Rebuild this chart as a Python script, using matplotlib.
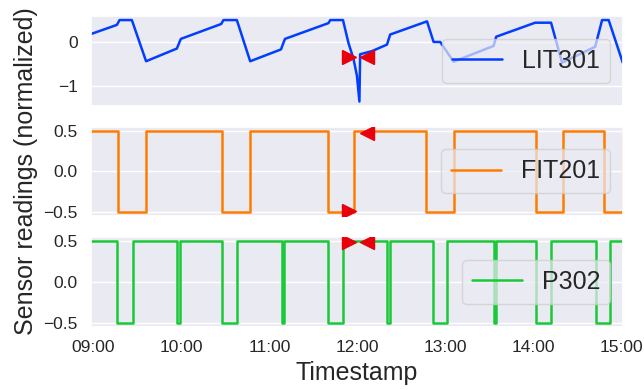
import matplotlib
matplotlib.use("Agg")
import matplotlib.pyplot as plt
import matplotlib.dates as mdates
import seaborn as sns
import pandas as pd

DAY = "2015-12-28 "

# LIT301 tank level (normalized)
lit301_time = ["08:58:12", "09:16:00", "09:17:48", "09:26:12", "09:35:54", "09:56:54",
               "09:59:36", "10:27:06", "10:28:42", "10:37:48", "10:46:54", "11:07:54",
               "11:10:36", "11:40:18", "11:41:30", "11:50:12", "11:53:54", "11:57:24",
               "11:59:42", "12:01:24", "12:01:54", "12:09:54", "12:20:12", "12:22:24",
               "12:47:30", "12:52:00", "12:56:30", "13:05:36", "13:32:54", "13:34:42",
               "14:01:18", "14:12:06", "14:19:36", "14:42:12", "14:46:54", "14:51:24",
               "15:01:00"]
lit301_value = [0.18, 0.39, 0.50, 0.50, -0.44, -0.15,
                0.07, 0.41, 0.50, 0.50, -0.44, -0.17,
                0.07, 0.43, 0.50, 0.50, -0.02, -0.39,
                -0.77, -1.36, -0.28, -0.21, -0.06, 0.17,
                0.47, 0.00, 0.00, -0.45, -0.09, 0.12,
                0.44, 0.44, -0.47, -0.11, 0.50, 0.50,
                -0.47]

# FIT201 flow (step changes)
fit201_time = ["08:58:12", "09:17:00", "09:36:00", "10:28:00", "10:47:00", "11:40:00",
               "11:58:00", "12:47:00", "13:06:00", "14:02:00", "14:20:00", "14:48:00",
               "15:01:00"]
fit201_value = [0.5, -0.5, 0.5, -0.5, 0.5, -0.5,
                0.5, -0.5, 0.5, -0.5, 0.5, -0.5,
                0.5]

# P302 pump status (step changes)
p302_time = ["08:58:12", "09:16:24", "09:27:00", "09:57:18", "09:59:06", "10:27:36",
             "10:37:48", "11:08:30", "11:10:06", "11:40:18", "11:50:06", "12:20:12",
             "12:22:24", "12:51:18", "13:01:06", "13:32:54", "13:34:42", "14:02:00",
             "14:12:06", "14:43:00", "14:52:06", "15:01:00"]
p302_value = [0.5, -0.5, 0.5, -0.5, 0.5, -0.5,
              0.5, -0.5, 0.5, -0.5, 0.5, -0.5,
              0.5, -0.5, 0.5, -0.5, 0.5, -0.5,
              0.5, -0.5, 0.5, 0.5]

# attack start / end markers per sensor
attack_time = ["11:54:00", "12:06:24"]
lit301_attack = [-0.34, -0.34]
fit201_attack = [-0.48, 0.47]
p302_attack = [0.49, 0.49]


def to_dt(ts):
    return pd.to_datetime([DAY + t for t in ts], format="%Y-%m-%d %H:%M:%S")


sns.set_theme(style="darkgrid")
plt.rcParams["font.family"] = ["Liberation Sans", "DejaVu Sans"]

colors = sns.color_palette("bright")

fig, axes = plt.subplots(3, 1, sharex=True, figsize=(6.44, 3.9), dpi=100)
fig.subplots_adjust(left=0.141, right=0.967, top=0.959, bottom=0.162, hspace=0.234)

series = [
    ("LIT301", lit301_time, lit301_value, lit301_attack, colors[0], "default"),
    ("FIT201", fit201_time, fit201_value, fit201_attack, colors[1], "steps-post"),
    ("P302", p302_time, p302_value, p302_attack, colors[2], "steps-post"),
]

at = to_dt(attack_time)
for ax, (name, ts, vals, att, col, ds) in zip(axes, series):
    ax.plot(to_dt(ts), vals, color=col, lw=1.8, drawstyle=ds, label=name)
    ax.plot(at[:1], att[:1], ">", color="#e8000b", ms=10.5, zorder=5)
    ax.plot(at[1:], att[1:], "<", color="#e8000b", ms=10.5, zorder=5)
    ax.grid(axis="x", visible=False)
    ax.tick_params(labelsize=12.5)
    ax.legend(loc="center right", fontsize=18, framealpha=0.7)

axes[0].set_yticks([-1, 0])
axes[1].set_yticks([-0.5, 0.0, 0.5])
axes[2].set_yticks([-0.5, 0.0, 0.5])

allt = to_dt(lit301_time)
axes[2].set_xlim(allt.min(), allt.max())
axes[2].xaxis.set_major_locator(mdates.HourLocator())
axes[2].xaxis.set_major_formatter(mdates.DateFormatter("%H:%M"))

axes[1].set_ylabel("Sensor readings (normalized)", fontsize=18)
axes[2].set_xlabel("Timestamp", fontsize=18)

fig.savefig("out.png", dpi=100)
